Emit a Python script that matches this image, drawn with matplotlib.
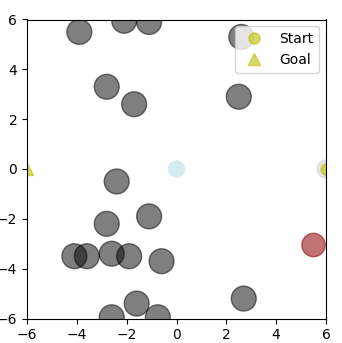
import matplotlib
matplotlib.use('Agg')
import matplotlib.pyplot as plt
from matplotlib.patches import Circle

# obstacle centres (radius 0.5)
obs_x = [-3.9, -2.1, -1.1, 2.6, -2.8, -1.7, 2.5, -2.4, -1.1, -2.8,
         -4.1, -3.6, -2.6, -1.9, -0.6, 2.7, -1.6, -2.6, -0.75]
obs_y = [5.5, 5.95, 5.9, 5.3, 3.3, 2.6, 2.9, -0.5, -1.9, -2.2,
         -3.5, -3.5, -3.4, -3.5, -3.7, -5.2, -5.4, -5.95, -5.95]
obs_r = 0.5

red_xy = (5.5, -3.05)
agent_xy = (0.0, 0.0)
start_xy = (6.0, 0.0)
goal_xy = (-6.0, 0.0)

fig = plt.figure(figsize=(3.42, 3.43), dpi=100)
ax = fig.add_axes([27 / 342, 1 - 319 / 343, 299 / 342, 300 / 343])

for x, y in zip(obs_x, obs_y):
    ax.add_patch(Circle((x, y), obs_r, color='k', alpha=0.5))
ax.add_patch(Circle(red_xy, 0.47, color='#8b0000', alpha=0.55))
ax.add_patch(Circle(agent_xy, 0.35, color='lightblue', alpha=0.5, lw=0))
ax.add_patch(Circle(start_xy, 0.36, color='lightgray', alpha=0.6))

ax.plot(*start_xy, 'o', color='y', alpha=0.6, markersize=8, label='Start')
ax.plot(*goal_xy, '^', color='y', alpha=0.6, markersize=8, label='Goal')

ax.set_xlim(-6, 6)
ax.set_ylim(-6, 6)
ax.set_aspect('equal')
ax.set_xticks([-6, -4, -2, 0, 2, 4, 6])
ax.set_yticks([-6, -4, -2, 0, 2, 4, 6])
ax.legend(loc='upper right')

fig.savefig('out.png', dpi=100)
